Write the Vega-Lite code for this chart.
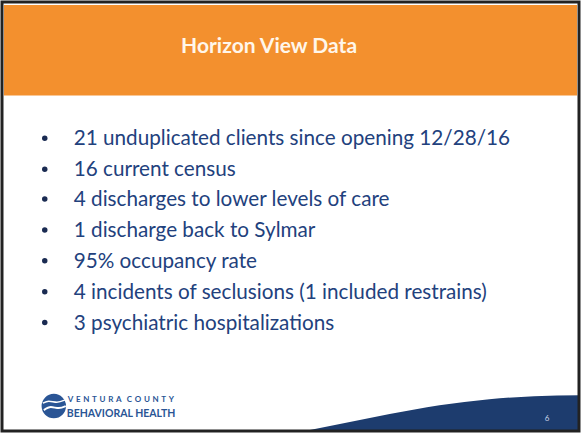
{
  "$schema": "https://vega.github.io/schema/vega-lite/v6.json",
  "width": 581,
  "height": 433,
  "autosize": {"type": "fit", "contains": "padding"},
  "padding": 0,
  "background": "white",
  "config": {"view": {"stroke": null}},
  "encoding": {
    "x": {"field": "x", "type": "quantitative", "scale": {"domain": [0, 581], "nice": false, "zero": false}, "axis": null},
    "y": {"field": "y", "type": "quantitative", "scale": {"domain": [433, 0], "nice": false, "zero": false}, "axis": null}
  },
  "layer": [
    {
      "data": {"values": [{"x": 3, "x2": 578, "y": 4, "y2": 95}]},
      "mark": {"type": "rect", "color": "#f3902e"},
      "encoding": {"x2": {"field": "x2"}, "y2": {"field": "y2"}}
    },
    {
      "data": {"values": [{"x": 269, "y": 46, "t": "Horizon View Data"}]},
      "mark": {"type": "text", "color": "#fff6ea", "font": "Lato", "fontWeight": "bold", "fontSize": 21, "baseline": "middle", "align": "center"},
      "encoding": {"text": {"field": "t"}}
    },
    {
      "data": {"values": [
        {"x": 73, "y": 139, "t": "21 unduplicated clients since opening 12/28/16"},
        {"x": 73, "y": 170, "t": "16 current census"},
        {"x": 73, "y": 200, "t": "4 discharges to lower levels of care"},
        {"x": 73, "y": 231, "t": "1 discharge back to Sylmar"},
        {"x": 73, "y": 262, "t": "95% occupancy rate"},
        {"x": 73, "y": 293, "t": "4 incidents of seclusions (1 included restrains)"},
        {"x": 73, "y": 324, "t": "3 psychiatric hospitalizations"}
      ]},
      "layer": [
        {
          "mark": {"type": "text", "color": "#22417d", "font": "Lato", "fontSize": 20.7, "baseline": "middle", "align": "left"},
          "encoding": {"text": {"field": "t"}}
        },
        {
          "mark": {"type": "circle", "color": "#1a2b52", "size": 30, "opacity": 1, "xOffset": -29, "yOffset": -1},
          "encoding": {}
        }
      ]
    },
    {
      "data": {"values": [
        {"x": 300, "y": 433},
        {"x": 340, "y": 425},
        {"x": 390, "y": 415},
        {"x": 440, "y": 406},
        {"x": 490, "y": 400},
        {"x": 535, "y": 397},
        {"x": 581, "y": 396}
      ]},
      "mark": {"type": "area", "color": "#1d3c6e", "interpolate": "monotone", "opacity": 1},
      "encoding": {"y2": {"datum": 433}}
    },
    {
      "data": {"values": [{"x": 548, "y": 420, "t": "6"}]},
      "mark": {"type": "text", "color": "#c8d4e6", "font": "Lato", "fontSize": 8, "baseline": "middle", "align": "center"},
      "encoding": {"text": {"field": "t"}}
    },
    {
      "data": {"values": [{"x": 53, "y": 407}]},
      "mark": {"type": "circle", "color": "#2a5595", "size": 600, "opacity": 1},
      "encoding": {}
    },
    {
      "data": {"values": [{"x": 42, "y": 404, "s": 1}, {"x": 48, "y": 402, "s": 2}, {"x": 56, "y": 403, "s": 3}, {"x": 64, "y": 401, "s": 4}]},
      "mark": {"type": "line", "color": "white", "strokeWidth": 1.5, "interpolate": "monotone"},
      "encoding": {"order": {"field": "s"}}
    },
    {
      "data": {"values": [{"x": 43, "y": 411, "s": 1}, {"x": 50, "y": 408, "s": 2}, {"x": 58, "y": 409, "s": 3}, {"x": 65, "y": 407, "s": 4}]},
      "mark": {"type": "line", "color": "white", "strokeWidth": 2, "interpolate": "monotone"},
      "encoding": {"order": {"field": "s"}}
    },
    {
      "data": {"values": [{"x": 67, "y": 401, "t": "V\u2004E\u2004N\u2004T\u2004U\u2004R\u2004A\u2004\u2004C\u2004O\u2004U\u2004N\u2004T\u2004Y"}]},
      "mark": {"type": "text", "color": "#2a5595", "font": "Lato", "fontSize": 8, "fontWeight": "bold", "baseline": "middle", "align": "left"},
      "encoding": {"text": {"field": "t"}}
    },
    {
      "data": {"values": [{"x": 66, "y": 415, "t": "BEHAVIORAL HEALTH"}]},
      "mark": {"type": "text", "color": "#2a5595", "font": "Lato", "fontSize": 10.5, "fontWeight": "bold", "baseline": "middle", "align": "left"},
      "encoding": {"text": {"field": "t"}}
    },
    {
      "data": {"values": [{"x": 1, "x2": 580, "y": 1, "y2": 432}]},
      "mark": {"type": "rect", "fill": null, "stroke": "#222222", "strokeWidth": 3},
      "encoding": {"x2": {"field": "x2"}, "y2": {"field": "y2"}}
    }
  ]
}
